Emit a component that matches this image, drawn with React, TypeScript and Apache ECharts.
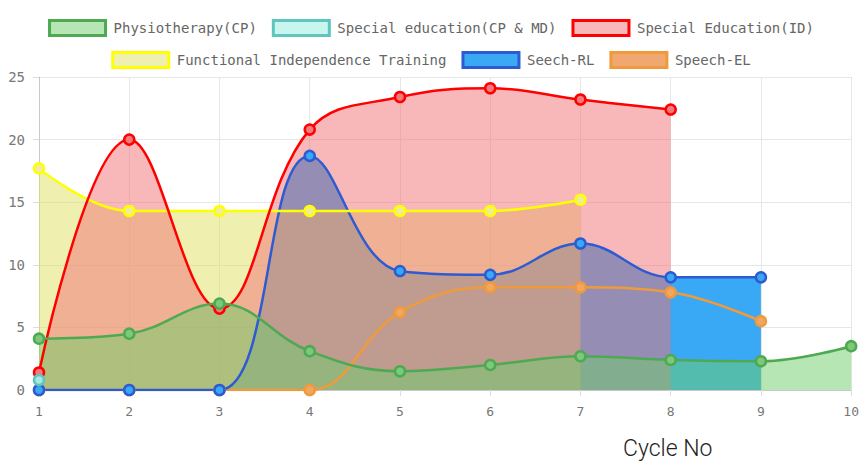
import React, { useEffect, useRef } from "react";
import * as echarts from "echarts";

const categories = ["1", "2", "3", "4", "5", "6", "7", "8", "9", "10"];
const physio = [4.1, 4.5, 6.9, 3.1, 1.5, 2.0, 2.7, 2.4, 2.3, 3.5];
const specialCP = [0.8, null, null, null, null, null, null, null, null, null];
const specialID = [1.4, 20.0, 6.5, 20.8, 23.4, 24.1, 23.2, 22.4, null, null];
const fit = [17.7, 14.3, 14.3, 14.3, 14.3, 14.3, 15.2, null, null, null];
const seechRL = [0, 0, 0, 18.7, 9.5, 9.2, 11.7, 9.0, 9.0, null];
const speechEL = [0, 0, 0, 0, 6.2, 8.2, 8.2, 7.8, 5.5, null];
const yTicks = [0, 5, 10, 15, 20, 25];

const names = [
  "Physiotherapy(CP)",
  "Special education(CP & MD)",
  "Special Education(ID)",
  "Functional Independence Training",
  "Seech-RL",
  "Speech-EL",
];

const styles = [
  { line: "#4fa953", area: "rgb(109,205,105)", areaOp: 0.5, point: "#7cc97c", legendFill: "#b6e6b4" },
  { line: "#5fc6bd", area: "rgb(150,235,225)", areaOp: 0.5, point: "#a8e8e0", legendFill: "#c9f5ef" },
  { line: "#ff0000", area: "rgb(241,113,117)", areaOp: 0.5, point: "#f07a7e", legendFill: "#f8b8ba" },
  { line: "#ffff00", area: "rgb(223,223,97)", areaOp: 0.5, point: "#eeee9a", legendFill: "#efefb0" },
  { line: "#2d5bd2", area: "#3aa9f5", areaOp: 1, point: "#3aa9f5", legendFill: "#3aa9f5" },
  { line: "#ef9a3c", area: "rgb(235,140,60)", areaOp: 0.6, point: "#f0a860", legendFill: "#f0a870" },
];

const seriesData = [physio, specialCP, specialID, fit, seechRL, speechEL];

export default function App() {
  const ref = useRef<HTMLDivElement>(null);
  useEffect(() => {
    if (!ref.current) return;
    const chart = echarts.init(ref.current, undefined, { renderer: "svg" });
    const legendItem = (i: number) => ({
      name: names[i],
      itemStyle: { color: styles[i].legendFill, borderColor: styles[i].line, borderWidth: 3 },
    });
    const legendCommon = {
      left: "center",
      icon: "rect",
      itemWidth: 56,
      itemHeight: 15,
      itemGap: 15,
      selectedMode: false,
      textStyle: { fontFamily: "DejaVu Sans Mono", fontSize: 14, color: "#666", padding: [0, 0, 0, 3] },
    };
    const order = [5, 4, 3, 2, 1, 0];
    chart.setOption({
      animation: false,
      legend: [
        { ...legendCommon, top: 14, data: [0, 1, 2].map(legendItem) },
        { ...legendCommon, top: 46, data: [3, 4, 5].map(legendItem) },
      ],
      grid: { left: 39, right: 9, top: 77, bottom: 80 },
      xAxis: {
        type: "category",
        data: categories,
        boundaryGap: false,
        axisLine: { show: true, lineStyle: { color: "#c8c8c8" } },
        axisTick: { show: true, length: 6, lineStyle: { color: "#dcdcdc" } },
        splitLine: { show: true, lineStyle: { color: "#e6e6e6" } },
        axisLabel: { fontFamily: "DejaVu Sans Mono", fontSize: 13, color: "#777", margin: 15 },
      },
      yAxis: {
        type: "value",
        min: yTicks[0],
        max: yTicks[yTicks.length - 1],
        interval: 5,
        axisLine: { show: true, lineStyle: { color: "#c8c8c8" } },
        axisTick: { show: true, length: 6, lineStyle: { color: "#dcdcdc" } },
        splitLine: { show: true, lineStyle: { color: "#e6e6e6" } },
        axisLabel: { fontFamily: "DejaVu Sans Mono", fontSize: 14, color: "#777", margin: 14 },
      },
      graphic: [
        {
          type: "text",
          left: 623,
          top: 437,
          style: { text: "Cycle No", font: "300 23px Roboto", fill: "#222" },
        },
      ],
      series: order.map((i) => ({
        name: names[i],
        type: "line",
        data: seriesData[i],
        smooth: 0.4,
        connectNulls: false,
        symbol: "circle",
        symbolSize: 10,
        showSymbol: true,
        silent: true,
        lineStyle: { color: styles[i].line, width: 2.5 },
        itemStyle: { color: styles[i].point, borderColor: styles[i].line, borderWidth: 2.5 },
        areaStyle: { color: styles[i].area, opacity: styles[i].areaOp },
        emphasis: { disabled: true },
      })),
    });
    return () => chart.dispose();
  }, []);
  return (
    <div
      ref={ref}
      style={{ position: "fixed", left: 0, top: 0, width: 862, height: 470, background: "#fff" }}
    />
  );
}
